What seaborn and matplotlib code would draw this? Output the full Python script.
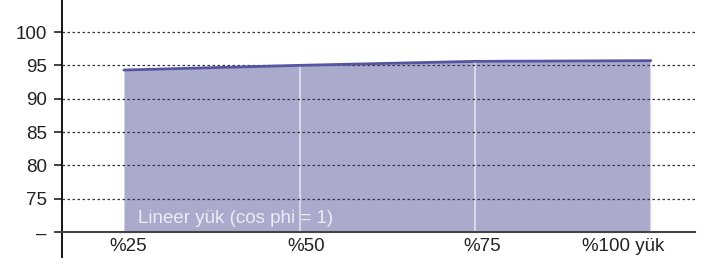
import numpy as np
import pandas as pd
import matplotlib
matplotlib.use("Agg")
import matplotlib.pyplot as plt
import matplotlib.transforms as mtransforms
import seaborn as sns

# data
load_labels = ['%25', '%50', '%75', '%100 yük']
efficiency = [94.3, 95.0, 95.6, 95.7]
ytick_values = [70, 75, 80, 85, 90, 95, 100]
ytick_labels = ['–', '75', '80', '85', '90', '95', '100']
series_label = 'Lineer yük (cos phi = 1)'

sns.set_style('white')
plt.rcParams['font.family'] = ['Liberation Sans', 'DejaVu Sans']

df = pd.DataFrame({'pos': np.arange(len(load_labels)), 'eff': efficiency})

fig = plt.figure(figsize=(7.11, 2.65), dpi=100)
ax = fig.add_axes([0.0872, 0.03, 0.977 - 0.0872, 0.97])

fill_col = '#aaaacc'
line_col = '#5555a0'

ax.fill_between(df['pos'], 70, df['eff'], color=fill_col, lw=0, zorder=1)
# light separators at each load step
ax.vlines(df['pos'][1:], 70, df['eff'][1:], color='white', alpha=0.55, lw=1.5, zorder=2)
sns.lineplot(data=df, x='pos', y='eff', color=line_col, lw=2.0, ax=ax, zorder=4)

# dotted horizontal grid, drawn over the fill
for yv in ytick_values[1:]:
    ax.axhline(yv, color='#333344', lw=0.9, ls=(0, (2, 2)), zorder=3)

ax.set_xlim(-0.353, 3.25)
ax.set_ylim(66.25, 104.8)

ax.spines['top'].set_visible(False)
ax.spines['right'].set_visible(False)
ax.spines['left'].set_color('black')
ax.spines['left'].set_linewidth(1.3)
ax.spines['bottom'].set_position(('data', 70))
ax.spines['bottom'].set_color('#444444')
ax.spines['bottom'].set_linewidth(1.5)
ax.spines['bottom'].set_zorder(5)

ax.set_yticks(ytick_values)
ax.set_yticklabels(ytick_labels)
ax.tick_params(axis='y', direction='out', length=6, width=1.3, color='#333333',
               pad=5, labelsize=13.5, labelcolor='#222222', left=True)
ax.set_xticks(df['pos'])
ax.set_xticklabels(load_labels)
ax.tick_params(axis='x', length=0, pad=4, labelsize=13.5, labelcolor='#222222')

# nudge labels to sit like in the reference
nudges = [4, 7, 7, -28]
for lab, dx in zip(ax.get_xticklabels(), nudges):
    lab.set_transform(lab.get_transform() + mtransforms.ScaledTranslation(dx / 100, 0, fig.dpi_scale_trans))

ax.set_xlabel('')
ax.set_ylabel('')

ax.text(0.08, 72.1, series_label, color='#ececf6', fontsize=13.5, ha='left', va='center', zorder=6)

fig.savefig('out.png', dpi=100)
